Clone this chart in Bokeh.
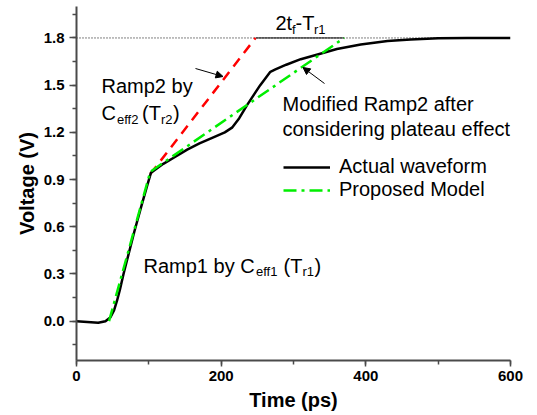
from bokeh.plotting import figure
from bokeh.models import (Label, Arrow, NormalHead, Legend, LegendItem, Range1d,
                          SingleIntervalTicker, NumeralTickFormatter)
from bokeh.embed import file_html
from bokeh.resources import INLINE

# ---- data ----
t_actual = [0, 15, 30, 40, 47, 52, 56, 60, 65, 70, 80, 89, 97, 103, 120, 135, 153, 170,
            190, 205, 215, 225, 236, 254, 268, 275, 290, 310, 337, 360, 393, 430, 462,
            500, 540, 600]
v_actual = [0, -0.005, -0.01, 0.0, 0.025, 0.07, 0.13, 0.2, 0.3, 0.39, 0.57, 0.72, 0.85,
            0.944, 1.0, 1.04, 1.09, 1.13, 1.17, 1.20, 1.23, 1.29, 1.375, 1.50, 1.585,
            1.60, 1.63, 1.665, 1.70, 1.73, 1.758, 1.78, 1.79, 1.798, 1.80, 1.80]
t_model = [45, 102, 370]
v_model = [0.0, 0.95, 1.8]
t_ramp2 = [102, 247.5]
v_ramp2 = [0.935, 1.8]
v_final = 1.8

FONT = "Liberation Sans"
AXC = "#4a4a4a"
Y0, Y1 = -0.25, 2.0

p = figure(frame_width=434, frame_height=354, output_backend="svg", toolbar_location=None,
           x_range=Range1d(0, 600), y_range=Range1d(Y0, Y1),
           min_border_left=76, min_border_right=20, min_border_top=6, min_border_bottom=50)
p.outline_line_color = None
p.grid.visible = False

# axes
p.xaxis.ticker = SingleIntervalTicker(interval=200, num_minor_ticks=2)
p.yaxis.ticker = SingleIntervalTicker(interval=0.3, num_minor_ticks=2)
p.yaxis.formatter = NumeralTickFormatter(format="0.0")
for ax in (p.xaxis[0], p.yaxis[0]):
    ax.axis_line_color = AXC
    ax.axis_line_width = 2
    ax.major_tick_line_color = AXC
    ax.minor_tick_line_color = AXC
    ax.major_tick_line_width = 1.5
    ax.minor_tick_line_width = 1.5
    ax.major_tick_in = 0
    ax.minor_tick_in = 0
    ax.minor_tick_out = 4
    ax.major_label_text_font = FONT
    ax.major_label_text_font_style = "bold"
    ax.major_label_text_font_size = "15px"
    ax.major_label_text_color = "black"
    ax.axis_label_text_font = FONT
    ax.axis_label_text_font_style = "bold"
    ax.axis_label_text_font_size = "20px"
    ax.axis_label_text_color = "black"
p.xaxis.major_tick_out = 6
p.yaxis.major_tick_out = 7
p.xaxis.major_label_standoff = 4
p.yaxis.major_label_standoff = 5
p.xaxis.axis_label = "Time (ps)"
p.yaxis.axis_label = "Voltage (V)"
p.xaxis.axis_label_standoff = 5
p.yaxis.axis_label_standoff = 3

# reference level lines
p.line([0, 600], [v_final, v_final], line_color="black", line_width=1, line_dash="1 2")
p.line([t_ramp2[-1], t_model[-1]], [v_final, v_final], line_color="black", line_width=1)

# curves
r_red = p.line(t_ramp2, v_ramp2, line_color="#ff0000", line_width=2.5, line_dash="10 7")
r_act = p.line(t_actual, v_actual, line_color="black", line_width=2.5, line_join="round")
r_mod = p.line(t_model, v_model, line_color="#00ee00", line_width=2.5, line_dash="13 5 3 5")

legend = Legend(items=[LegendItem(label="Actual waveform", renderers=[r_act]),
                       LegendItem(label="Proposed Model", renderers=[r_mod])],
                location=(207, 159), padding=0, margin=0, spacing=0,
                glyph_width=47, glyph_height=20, label_height=20, label_standoff=9,
                border_line_color=None, background_fill_alpha=0,
                label_text_font=FONT, label_text_font_size="20px", label_text_color="black")
p.add_layout(legend, "center")


# ---- annotations (positions given in page pixels, converted to data) ----
def X(px):
    return (px - 76) * 600 / 434


def Y(py):
    return Y1 - (py - 6) * (Y1 - Y0) / 354


def txt(px, py, s, size=20):
    p.add_layout(Label(x=X(px), y=Y(py), text=s, text_font=FONT,
                       text_font_size=f"{size}px", text_color="black",
                       text_align="left", text_baseline="alphabetic"))


SUB = 13
# Ramp2 by C_eff2 (T_r2)
txt(101, 85, "Ramp2 by")
txt(101, 112, "C")
txt(116.5, 118.5, "eff2", SUB)
txt(141.5, 112, "(T")
txt(160.5, 118.5, "r2", SUB)
txt(172.5, 112, ")")
# 2t_f - T_r1
txt(275, 22, "2t")
txt(291.5, 28.5, "f", SUB)
txt(295, 22, "-T")
txt(313.5, 28.5, "r1", SUB)
# Modified Ramp2
txt(282, 103, "Modified Ramp2 after")
txt(282, 128, "considering plateau effect")
# Ramp1 by C_eff1 (T_r1)
txt(143, 265, "Ramp1 by C")
txt(255.5, 270.5, "eff1", SUB)
txt(283, 265, "(T")
txt(302, 270.5, "r1", SUB)
txt(314, 265, ")")

# arrows
p.add_layout(Arrow(x_start=X(195), y_start=Y(68), x_end=X(222.5), y_end=Y(76),
                   line_color="black", line_width=1,
                   end=NormalHead(size=7, fill_color="black", line_color="black")))
p.add_layout(Arrow(x_start=X(324), y_start=Y(83), x_end=X(302.5), y_end=Y(67),
                   line_color="black", line_width=1,
                   end=NormalHead(size=7, fill_color="black", line_color="black")))

open("out.html", "w").write(file_html(p, INLINE))
